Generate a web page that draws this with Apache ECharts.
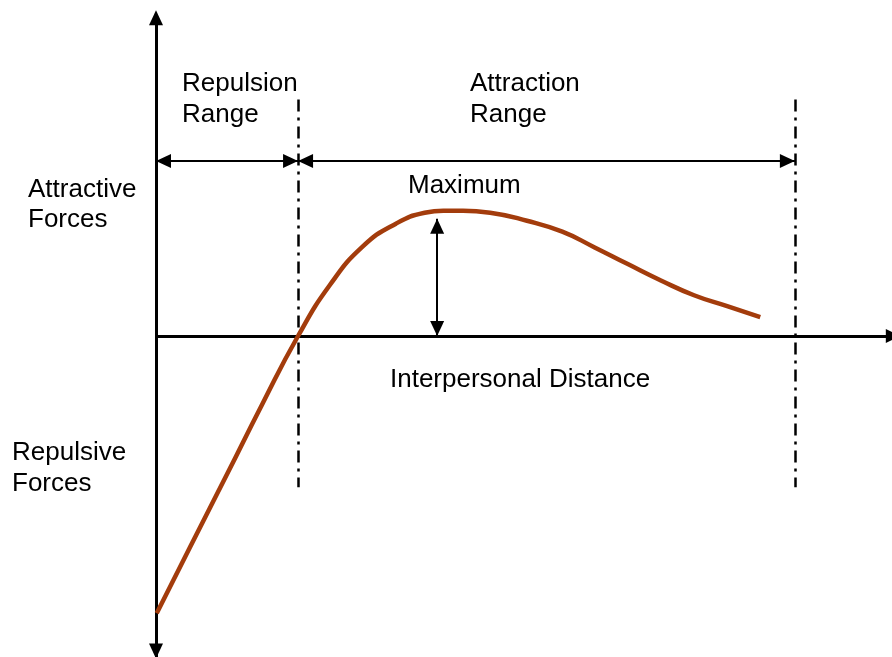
<!DOCTYPE html>
<html>
<head>
<meta charset="utf-8">
<script src="https://cdn.jsdelivr.net/npm/echarts@6/dist/echarts.min.js"></script>
<style>
  html, body { margin: 0; padding: 0; background: #fff; }
  #chart { width: 892px; height: 657px; }
</style>
</head>
<body>
<div id="chart"></div>
<script>
// force curve (distance 0..100, force -100..100)
const curveX = [0.1, 4.6, 9.8, 14.4, 19.3, 23.6, 28.1, 32.6, 36.5, 40.6, 45.4, 50.4, 55.2, 59.6, 64.1, 68.6, 73.1, 77.6, 82.1]
const curveY = [-86.4, -65.9, -42.4, -21.4, 0, 15.8, 27.9, 35.0, 38.4, 39.0, 38.4, 35.9, 32.5, 27.6, 22.4, 17.3, 12.7, 9.3, 5.9]

// range boundaries on the distance axis: origin, end of repulsion, end of attraction
const rangeBounds = [0, 19.3, 86.8]
const rangeArrowY = 54.5
const guideTop = 73.7
const guideBottom = -47.1

// arrow marking the maximum
const peakX = 38.2
const peakY = 36.5

// axis extents (arrow tips)
const xEnd = 101.2
const yTop = 101.5
const yBottom = -100.5

const font = '"Liberation Sans", Arial, sans-serif'
const headLen = 15

const chart = echarts.init(document.getElementById('chart'))

function seg(a, b) {
  return { coords: [a, b] }
}

// arrowhead whose tip sits on the point
const dirs = {
  up: { rot: 0, off: [0, headLen / 2] },
  down: { rot: 180, off: [0, -headLen / 2] },
  left: { rot: 90, off: [headLen / 2, 0] },
  right: { rot: -90, off: [-headLen / 2, 0] }
}
function head(x, y, dir) {
  return { value: [x, y], symbolRotate: dirs[dir].rot, symbolOffset: dirs[dir].off }
}

function label(text, x, y) {
  return {
    type: 'text',
    x: x,
    y: y,
    style: {
      text: text,
      fill: '#000',
      font: '26px ' + font,
      textVerticalAlign: 'middle'
    }
  }
}

// one smooth polyline through all curve points (no control point clamping)
function renderCurve(params, api) {
  const pts = curveX.map((x, i) => api.coord([x, curveY[i]]))
  return {
    type: 'polyline',
    shape: { points: pts, smooth: 0.5 },
    style: { stroke: '#A33C0C', lineWidth: 4.5, fill: null, lineCap: 'butt' }
  }
}

chart.setOption({
  animation: false,
  backgroundColor: '#fff',
  grid: { left: 156, top: 15, width: 736, height: 646 },
  xAxis: { type: 'value', min: 0, max: 100, show: false },
  yAxis: { type: 'value', min: -100, max: 100, show: false },
  series: [
    // axes
    {
      type: 'lines',
      coordinateSystem: 'cartesian2d',
      clip: false,
      symbol: 'none',
      lineStyle: { color: '#000', width: 3, opacity: 1 },
      data: [
        seg([0, yBottom], [0, yTop - 3]),
        seg([0, 0], [xEnd - 1, 0])
      ]
    },
    // range arrows and maximum arrow shafts
    {
      type: 'lines',
      coordinateSystem: 'cartesian2d',
      clip: false,
      symbol: 'none',
      lineStyle: { color: '#000', width: 2, opacity: 1 },
      data: [
        seg([rangeBounds[0], rangeArrowY], [rangeBounds[1], rangeArrowY]),
        seg([rangeBounds[1], rangeArrowY], [rangeBounds[2], rangeArrowY]),
        seg([peakX, peakY], [peakX, 0])
      ]
    },
    // dash-dot range guides
    {
      type: 'lines',
      coordinateSystem: 'cartesian2d',
      clip: false,
      symbol: 'none',
      lineStyle: { color: '#000', width: 2.5, opacity: 1, type: [12, 6, 3, 6] },
      data: [
        seg([rangeBounds[1], guideTop], [rangeBounds[1], guideBottom]),
        seg([rangeBounds[2], guideTop], [rangeBounds[2], guideBottom])
      ]
    },
    // force curve
    {
      type: 'custom',
      renderItem: renderCurve,
      data: [[curveX[0], curveY[0]]],
      z: 3
    },
    // arrowheads
    {
      type: 'scatter',
      clip: false,
      symbol: 'triangle',
      symbolSize: [14, headLen],
      itemStyle: { color: '#000', opacity: 1 },
      z: 4,
      data: [
        head(0, yTop, 'up'),
        head(0, yBottom, 'down'),
        head(xEnd, 0, 'right'),
        head(rangeBounds[0], rangeArrowY, 'left'),
        head(rangeBounds[1], rangeArrowY, 'right'),
        head(rangeBounds[1], rangeArrowY, 'left'),
        head(rangeBounds[2], rangeArrowY, 'right'),
        head(peakX, peakY, 'up'),
        head(peakX, 0, 'down')
      ]
    }
  ],
  graphic: [
    label('Repulsion', 182, 84),
    label('Range', 182, 115),
    label('Attraction', 470, 84),
    label('Range', 470, 115),
    label('Attractive', 28, 190),
    label('Forces', 28, 220),
    label('Maximum', 408, 186),
    label('Interpersonal Distance', 390, 380),
    label('Repulsive', 12, 453),
    label('Forces', 12, 484)
  ]
})
</script>
</body>
</html>
